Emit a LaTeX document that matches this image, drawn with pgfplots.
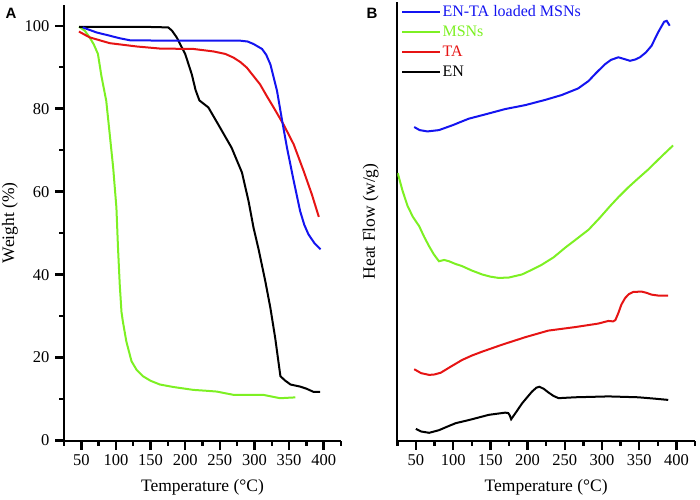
\documentclass[border=0pt]{standalone}
\usepackage{pgfplots}
\pgfplotsset{compat=1.18}
\usepackage{fontspec}
\setmainfont{Liberation Serif}
\newfontfamily\panelfont{Liberation Sans}

\definecolor{cblue}{RGB}{20,20,240}
\definecolor{cgreen}{RGB}{125,240,35}
\definecolor{cred}{RGB}{230,20,20}

\pgfplotsset{
  panel/.style={
    scale only axis,
    xmin=25, xmax=425,
    axis lines=left,
    axis line style={line width=2pt, black, -},
    tick align=outside,
    major tick length=9pt, minor tick length=5pt,
    tick style={draw=black, line width=2.4pt},
    xtick={50,100,...,400},
    minor xtick={25,75,...,425},
    tick label style={font=\fontsize{16.5}{18}\selectfont},
    xticklabel style={yshift=-1pt},
    label style={font=\fontsize{17.5}{20}\selectfont},
    xlabel style={yshift=-7pt},
    xlabel={Temperature (°C)},
    every axis plot/.append style={line width=2pt, no markers},
    /pgf/number format/assume math mode=true,
  },
}

\begin{document}
\begin{tikzpicture}
\path[use as bounding box] (0pt,0pt) rectangle (700pt,-499pt);

\node[font=\panelfont\bfseries\fontsize{15}{15}\selectfont] at (11pt,-13pt) {A};
\node[font=\panelfont\bfseries\fontsize{15}{15}\selectfont] at (372pt,-13pt) {B};

% ---- A: TGA
\begin{axis}[panel,
  at={(64pt,-440.5pt)}, anchor=south west,
  width=277pt, height=435.5pt,
  ymin=0, ymax=105,
  ytick={0,20,...,100}, minor ytick={10,30,...,90},
  yticklabel style={xshift=-2pt},
  ylabel={Weight (\%)},
]
% MSNs
\addplot[cgreen] coordinates {
(46.6,99.8)(55,98.8)(62,97.2)(68,95.5)(74,93.2)(79,87.9)(86,81.9)(91,73.9)
(96,65.8)(100.7,56.1)(103,46.4)(105.5,37.6)(108,31)(110,28.7)(115,23.9)
(122.5,19.1)(130,17)(139,15.5)(150,14.4)(163.5,13.5)(183,12.9)(212,12.2)
(230,12.0)(245.6,11.8)(270,11.0)(313,11.0)(337,10.2)(359,10.4)};
% EN
\addplot[black] coordinates {
(47,99.7)(100,99.7)(150,99.7)(175.5,99.6)(181,98.8)(187.7,97.2)(200,93.2)
(209.5,88.3)(215,84.5)(220.5,82.0)(233.5,80.3)(250.5,75.4)(267,70.6)(282,64.6)
(291.5,57.7)(298.7,51.3)(306,46.1)(315.7,38.4)(323,32)(330,24.7)(337.5,15.5)
(344,14.5)(352,13.5)(366,13.0)(375,12.5)(385.7,11.7)(395,11.7)};
% TA
\addplot[cred] coordinates {
(46.6,98.6)(62,97.2)(91,95.8)(130,95.0)(163.5,94.5)(212,94.4)(241,93.8)
(258,93.2)(270,92.3)(280,91.2)(289,89.9)(298,88)(308,85.9)(318,83)(327.7,80.3)
(342,76.2)(356.7,71.4)(371,65.0)(383,59.3)(393,53.9)};
% EN-TA loaded MSNs
\addplot[cblue] coordinates {
(52,99.6)(71.7,98.4)(91,97.6)(105,97)(120,96.5)(173,96.4)(279.4,96.4)(290,96.2)
(298.7,95.6)(311,94.4)(317,93)(323,90.7)(332.6,84.3)(340,77.1)(347,70.6)
(356.7,62.6)(366,55.3)(372,52)(378,49.7)(387,47.5)(395.4,46.1)};
\end{axis}

% ---- B: DSC
\begin{axis}[panel,
  at={(397.3pt,-440.7pt)}, anchor=south west,
  width=297.7pt, height=438.7pt,
  ymin=0, ymax=100,
  ytick=\empty,
  ylabel={Heat Flow (w/g)},
  ylabel style={yshift=6pt},
  legend style={draw=none, fill=none, anchor=north west,
    at={(rel axis cs:0.012,0.995)}, inner sep=0pt,
    cells={anchor=west},
    nodes={inner sep=0.5pt, text height=11.5pt, text depth=3.5pt},
    row sep=4pt, column sep=1pt},
  legend image code/.code={\draw[#1, line width=2pt] (0pt,0pt) -- (38pt,0pt);},
]
\addplot[cblue] coordinates {
(47.7,71.5)(55,70.8)(65.5,70.5)(81,70.8)(99,71.9)(121,73.4)(143.6,74.4)(170,75.6)
(197,76.5)(224,77.7)(246,78.8)(268,80.3)(282,82.0)(292,83.8)(304,85.8)(312,86.8)
(322,87.4)(330,87.0)(337.6,86.6)(345,86.9)(351,87.4)(359,88.5)(366.5,90.0)
(375.5,93.1)(383.5,95.5)(387,95.7)(391,94.6)};
\addlegendentry{\fontsize{16}{18}\selectfont\textcolor{cblue}{EN-TA loaded MSNs}}
\addplot[cgreen] coordinates {
(25.5,61)(26.7,60.3)(32,57)(38.8,53.5)(46,51)(54.4,48.9)(61,46.5)(67.8,44.3)
(74,42.5)(81,40.9)(88,41.2)(94.5,40.9)(103,40.3)(112,39.8)(125,38.8)(139,37.9)
(150,37.4)(161.4,37.1)(175,37.2)(192.6,37.9)(205,38.9)(219,40.1)(235,41.8)
(250.6,44.0)(266,46)(282,48.1)(297,50.8)(311,53.5)(322,55.5)(335,57.7)(348,59.7)
(362,61.8)(380,64.8)(395.5,67.3)};
\addlegendentry{\fontsize{16}{18}\selectfont\textcolor{cgreen}{MSNs}}
\addplot[cred] coordinates {
(47.7,16.3)(57,15.4)(67.8,15.0)(75,15.1)(83.4,15.5)(97,16.9)(112,18.4)(125,19.4)
(139,20.3)(166,21.9)(197,23.6)(228,25.1)(264,25.9)(295,26.7)(308.6,27.3)(315,27.2)
(318,27.5)(322,29.1)(326,31)(331,32.5)(336,33.4)(342,33.9)(353,34.0)(360,33.7)
(366.5,33.3)(375,33.1)(389,33.1)};
\addlegendentry{\fontsize{16}{18}\selectfont\textcolor{cred}{TA}}
\addplot[black] coordinates {
(50,2.7)(57,2.1)(67.8,1.8)(81,2.4)(92,3.2)(103.5,4.0)(121,4.7)(148,5.9)(170,6.4)
(174,6.3)(176,5.8)(178,4.9)(185,6.6)(192.6,8.5)(200,10)(206,11.2)(212,12.1)
(216,12.3)(222,11.8)(228,11.0)(235,10.2)(241.7,9.7)(264,9.9)(308.6,10.1)
(348.7,9.9)(370,9.6)(389,9.3)};
\addlegendentry{\fontsize{16}{18}\selectfont EN}
\end{axis}
\end{tikzpicture}
\end{document}
